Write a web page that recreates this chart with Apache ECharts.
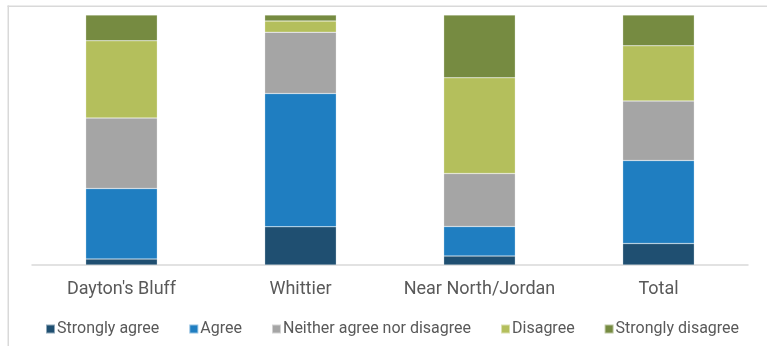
<!DOCTYPE html>
<html>
<head>
<meta charset="utf-8">
<script src="https://cdn.jsdelivr.net/npm/echarts@6/dist/echarts.min.js"></script>
<style>
  html, body { margin: 0; padding: 0; background: #fff; }
  #main { width: 767px; height: 346px; }
</style>
</head>
<body>
<div id="main"></div>
<script>
var categories = ["Dayton's Bluff", 'Whittier', 'Near North/Jordan', 'Total'];
var stronglyAgree = [2.4, 15.3, 3.6, 8.6];
var agree = [28.2, 53.3, 11.8, 33.2];
var neither = [28.2, 24.5, 21.2, 23.8];
var disagree = [30.9, 4.5, 38.3, 22.1];
var stronglyDisagree = [10.3, 2.4, 25.1, 12.3];

var chart = echarts.init(document.getElementById('main'));

function barSeries(name, data, color) {
    return {
        name: name,
        type: 'bar',
        stack: 'total',
        barWidth: '40%',
        data: data,
        itemStyle: { color: color, borderColor: 'rgba(255,255,255,0.5)', borderWidth: 0.5 }
    };
}

chart.setOption({
    animation: false,
    textStyle: { fontFamily: 'Roboto' },
    grid: { left: 32, right: 19, top: 15, bottom: 81, containLabel: false },
    // chart area frame (top and left edges are all that show)
    graphic: {
        elements: [
            { type: 'rect', z: 100, shape: { x: 7.5, y: 5.5, width: 760, height: 1.5 }, style: { fill: '#D9D9D9' } },
            { type: 'rect', z: 100, shape: { x: 7.5, y: 5.5, width: 1.5, height: 341 }, style: { fill: '#D9D9D9' } }
        ]
    },
    legend: {
        left: 40,
        top: 316,
        itemWidth: 9,
        itemHeight: 9,
        itemGap: 29,
        icon: 'rect',
        textStyle: { fontSize: 16, color: '#595959', padding: [0, 0, 0, -3] },
        data: ['Strongly agree', 'Agree', 'Neither agree nor disagree', 'Disagree', 'Strongly disagree']
    },
    xAxis: {
        type: 'category',
        data: categories,
        axisLine: { lineStyle: { color: '#D9D9D9', width: 1.5 } },
        axisTick: { show: false },
        axisLabel: { fontSize: 18, color: '#595959', margin: 15, interval: 0 }
    },
    yAxis: {
        type: 'value',
        min: 0,
        max: 100,
        show: false,
        splitLine: { show: false }
    },
    series: [
        barSeries('Strongly agree', stronglyAgree, '#1F4F71'),
        barSeries('Agree', agree, '#1F7EC1'),
        barSeries('Neither agree nor disagree', neither, '#A5A5A5'),
        barSeries('Disagree', disagree, '#B4BF5C'),
        barSeries('Strongly disagree', stronglyDisagree, '#768B41')
    ]
});
</script>
</body>
</html>
